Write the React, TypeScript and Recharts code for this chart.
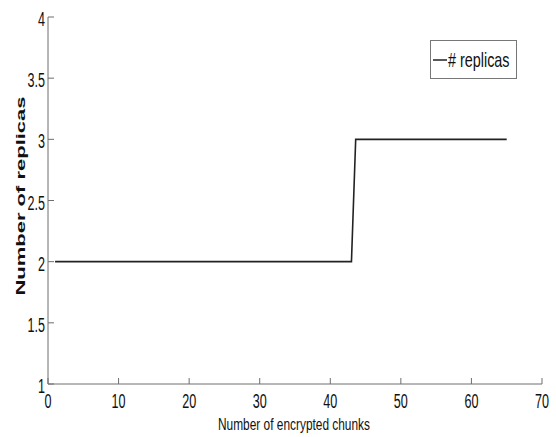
import React from 'react'
import { LineChart, Line, XAxis, YAxis } from 'recharts'

const chunkCounts = [1, 43, 43.6, 65]
const replicaCounts = [2, 2, 3, 3]
const xTicks = [0, 10, 20, 30, 40, 50, 60, 70]
const yTicks = [1, 1.5, 2, 2.5, 3, 3.5, 4]
const seriesName = '# replicas'

const data = chunkCounts.map((x, i) => ({ x, replicas: replicaCounts[i] }))

const FONT = 'Arial, "Liberation Sans", Helvetica, sans-serif'
const AXIS = '#6e6e6e'

const XTick = (props: any) => {
  const { x, y, payload } = props
  return (
    <g>
      <line x1={x} y1={y} x2={x} y2={y - 6} stroke={AXIS} strokeWidth={1} />
      <text
        transform={`translate(${x},${y + 24}) scale(0.6,1)`}
        textAnchor="middle"
        fontFamily={FONT}
        fontSize={21}
        fill="#111"
      >
        {payload.value}
      </text>
    </g>
  )
}

const YTick = (props: any) => {
  const { x, y, payload } = props
  return (
    <g>
      <line x1={x} y1={y} x2={x + 6} y2={y} stroke={AXIS} strokeWidth={1} />
      <text
        transform={`translate(${x - 3},${y + 9}) scale(0.6,1)`}
        textAnchor="end"
        fontFamily={FONT}
        fontSize={21}
        fill="#111"
      >
        {payload.value}
      </text>
    </g>
  )
}

export default function App() {
  return (
    <div style={{ position: 'absolute', left: 0, top: 0, background: '#fff' }}>
      <LineChart
        width={556}
        height={437}
        data={data}
        margin={{ top: 17, right: 14, bottom: 23, left: 8 }}
      >
        <XAxis
          dataKey="x"
          type="number"
          domain={[0, 70]}
          ticks={xTicks}
          interval={0}
          tickSize={0}
          tickMargin={0}
          tickLine={false}
          tick={<XTick />}
          stroke={AXIS}
          height={30}
          allowDataOverflow
        />
        <YAxis
          type="number"
          domain={[1, 4]}
          ticks={yTicks}
          interval={0}
          tickSize={0}
          tickMargin={0}
          tickLine={false}
          tick={<YTick />}
          stroke={AXIS}
          width={40}
          allowDataOverflow
        />
        <Line
          type="linear"
          dataKey="replicas"
          name={seriesName}
          stroke="#222"
          strokeWidth={1.6}
          dot={false}
          isAnimationActive={false}
        />
      </LineChart>
      <svg
        width={556}
        height={437}
        style={{ position: 'absolute', left: 0, top: 0, pointerEvents: 'none' }}
      >
        <g transform="translate(430,40)">
          <rect x={0.5} y={0.5} width={86} height={38} fill="#fff" stroke="#777" />
          <line x1={3} y1={20} x2={17} y2={20} stroke="#222" strokeWidth={1.5} />
          <text
            transform="translate(18,27) scale(0.72,1)"
            fontFamily={FONT}
            fontSize={20}
            fill="#111"
          >
            {seriesName}
          </text>
        </g>
        <text
          transform="translate(294,430) scale(0.7,1)"
          textAnchor="middle"
          fontFamily={FONT}
          fontSize={17}
          fill="#111"
        >
          Number of encrypted chunks
        </text>
        <text
          transform="translate(25,196) scale(0.6,1) rotate(-90)"
          textAnchor="middle"
          fontFamily={FONT}
          fontSize={22}
          fontWeight="bold"
          fill="#111"
        >
          Number of replicas
        </text>
      </svg>
    </div>
  )
}
